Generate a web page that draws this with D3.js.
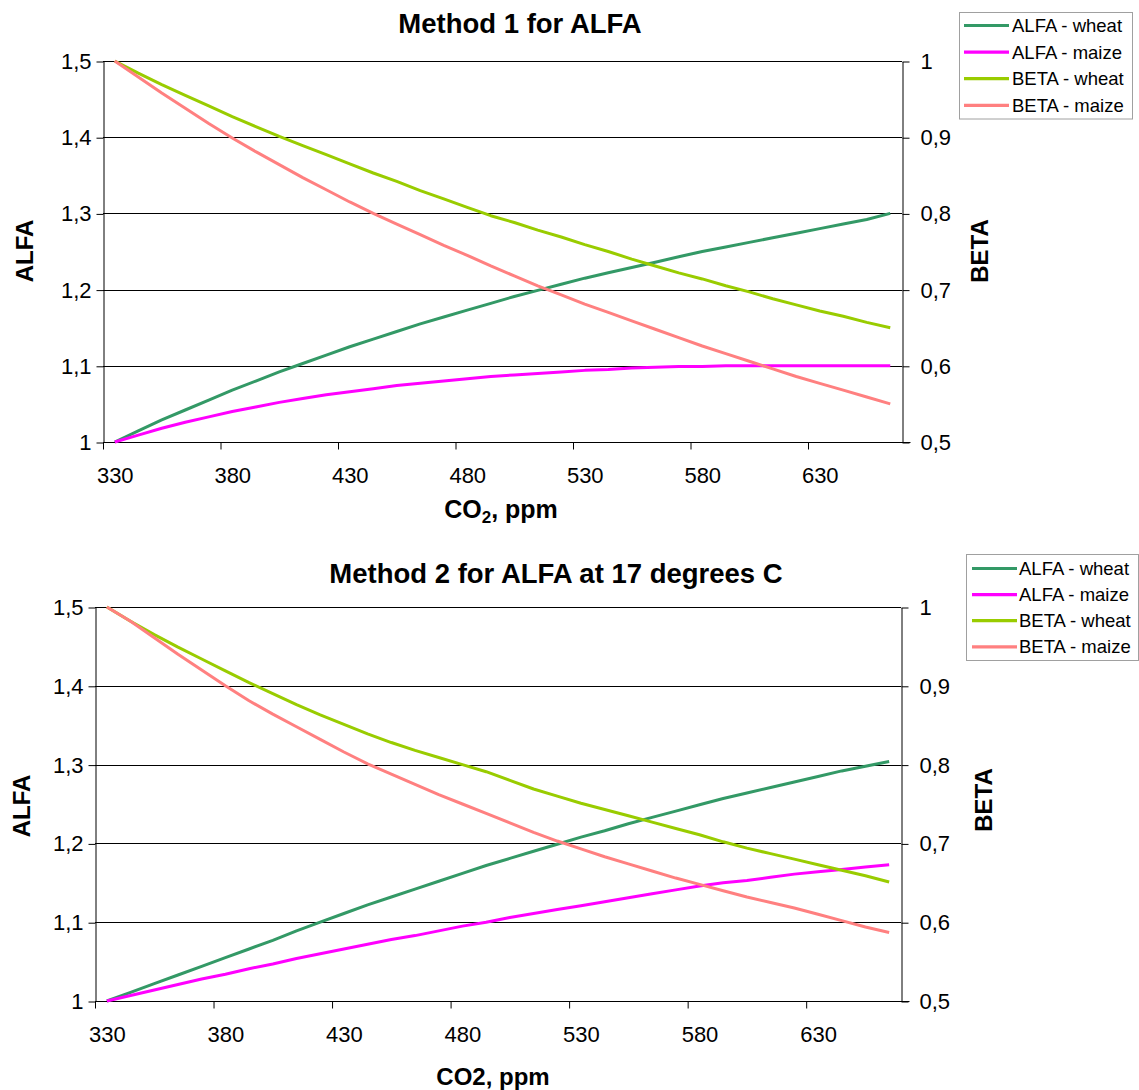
<!DOCTYPE html>
<html>
<head>
<meta charset="utf-8">
<script src="https://cdn.jsdelivr.net/npm/d3@7/dist/d3.min.js"></script>
<style>
  html, body { margin: 0; padding: 0; background: #fff; }
  svg { display: block; font-family: "Liberation Sans", Arial, sans-serif; }
</style>
</head>
<body>
<div id="chart"></div>
<script>
// ── Data ──
const co2 = [330, 340, 350, 360, 370, 380, 390, 400, 410, 420, 430, 440, 450, 460, 470, 480, 490,
             500, 510, 520, 530, 540, 550, 560, 570, 580, 590, 600, 610, 620, 630, 640, 650, 660];
const xTickLabels = [330, 380, 430, 480, 530, 580, 630];
const alfaTicks = [1, 1.1, 1.2, 1.3, 1.4, 1.5];
const betaTicks = [0.5, 0.6, 0.7, 0.8, 0.9, 1];
const seriesNames = ['ALFA - wheat', 'ALFA - maize', 'BETA - wheat', 'BETA - maize'];

// Method 1
const m1AlfaWheat = [1.000, 1.0145, 1.029, 1.042, 1.055, 1.068, 1.080, 1.092, 1.103, 1.114, 1.125, 1.135,
  1.145, 1.155, 1.164, 1.173, 1.182, 1.191, 1.199, 1.207, 1.215, 1.222, 1.229, 1.236, 1.243, 1.250,
  1.256, 1.262, 1.268, 1.274, 1.280, 1.286, 1.292, 1.300];
const m1AlfaMaize = [1.000, 1.009, 1.018, 1.026, 1.033, 1.040, 1.046, 1.052, 1.057, 1.062, 1.066, 1.070,
  1.074, 1.077, 1.080, 1.083, 1.086, 1.088, 1.090, 1.092, 1.094, 1.095, 1.097, 1.098, 1.099, 1.099,
  1.100, 1.100, 1.100, 1.100, 1.100, 1.100, 1.100, 1.100];
const m1BetaWheat = [1.000, 0.984, 0.969, 0.955, 0.941, 0.927, 0.914, 0.901, 0.889, 0.877, 0.865, 0.853,
  0.842, 0.830, 0.819, 0.808, 0.797, 0.788, 0.778, 0.769, 0.759, 0.750, 0.740, 0.731, 0.722, 0.714,
  0.705, 0.697, 0.688, 0.680, 0.672, 0.665, 0.657, 0.650];
const m1BetaMaize = [1.000, 0.979, 0.958, 0.938, 0.918, 0.899, 0.881, 0.864, 0.847, 0.831, 0.815, 0.800,
  0.786, 0.772, 0.758, 0.745, 0.731, 0.718, 0.705, 0.693, 0.681, 0.670, 0.659, 0.648, 0.637, 0.626,
  0.616, 0.606, 0.596, 0.586, 0.577, 0.568, 0.559, 0.550];

// Method 2
const m2AlfaWheat = [1.000, 1.011, 1.022, 1.033, 1.044, 1.055, 1.066, 1.077, 1.089, 1.100, 1.111, 1.122,
  1.132, 1.142, 1.152, 1.162, 1.172, 1.181, 1.190, 1.199, 1.208, 1.216, 1.225, 1.233, 1.241, 1.249,
  1.257, 1.264, 1.271, 1.278, 1.285, 1.292, 1.298, 1.304];
const m2AlfaMaize = [1.000, 1.007, 1.014, 1.021, 1.028, 1.034, 1.041, 1.047, 1.054, 1.060, 1.066, 1.072,
  1.078, 1.083, 1.089, 1.095, 1.100, 1.106, 1.111, 1.116, 1.121, 1.126, 1.131, 1.136, 1.141, 1.146,
  1.150, 1.153, 1.157, 1.161, 1.164, 1.167, 1.170, 1.173];
const m2BetaWheat = [1.000, 0.982, 0.965, 0.949, 0.934, 0.919, 0.904, 0.890, 0.876, 0.863, 0.851, 0.839,
  0.828, 0.818, 0.809, 0.800, 0.791, 0.780, 0.769, 0.760, 0.751, 0.743, 0.735, 0.727, 0.719, 0.711,
  0.702, 0.694, 0.687, 0.680, 0.673, 0.666, 0.659, 0.651];
const m2BetaMaize = [1.000, 0.982, 0.961, 0.940, 0.920, 0.900, 0.881, 0.864, 0.848, 0.832, 0.816, 0.801,
  0.788, 0.775, 0.762, 0.750, 0.738, 0.726, 0.714, 0.703, 0.693, 0.683, 0.674, 0.665, 0.656, 0.648,
  0.640, 0.632, 0.625, 0.618, 0.610, 0.602, 0.594, 0.587];

const colors = ['#339966', '#ff00ff', '#99cc00', '#ff8080'];

// ── Layout ──
const W = 1139, H = 1090;
const panels = [
  {
    title: 'Method 1 for ALFA', titleX: 520, titleY: 33,
    left: 103, right: 902, top: 61, bottom: 442,
    xTitleX: 501, xTitleY: 518, subscript: true, xTitleSize: 25,
    alfaX: 33, alfaY: 251, betaX: 988, betaY: 251,
    legend: { x: 959.5, y: 12.5, w: 173, h: 106.5, firstY: 25.5, step: 26.6, lineX: 964, lineW: 45, textX: 1012 },
    series: [m1AlfaWheat, m1AlfaMaize, m1BetaWheat, m1BetaMaize]
  },
  {
    title: 'Method 2 for ALFA at 17 degrees C', titleX: 556, titleY: 583,
    left: 95, right: 901, top: 607, bottom: 1001,
    xTitleX: 493, xTitleY: 1085, subscript: false, xTitleSize: 24,
    alfaX: 30, alfaY: 806, betaX: 992, betaY: 800,
    legend: { x: 966.5, y: 554.5, w: 172, h: 106, firstY: 568.5, step: 26.1, lineX: 972, lineW: 45, textX: 1019 },
    series: [m2AlfaWheat, m2AlfaMaize, m2BetaWheat, m2BetaMaize]
  }
];

const svg = d3.select('#chart').append('svg')
  .attr('width', W).attr('height', H);
svg.append('rect').attr('width', W).attr('height', H).attr('fill', '#fff');

function commaFmt(d) { return String(d).replace('.', ','); }

function drawPanel(p) {
  const g = svg.append('g');

  const x = d3.scaleBand().domain(co2).range([p.left, p.right]).paddingInner(0).paddingOuter(0);
  const bw = x.bandwidth();
  const yA = d3.scaleLinear().domain([1, 1.5]).range([p.bottom, p.top]);
  const yB = d3.scaleLinear().domain([0.5, 1]).range([p.bottom, p.top]);

  // ── Gridlines ──
  g.append('g').selectAll('line').data(alfaTicks).join('line')
    .attr('x1', p.left).attr('x2', p.right)
    .attr('y1', function(d) { return Math.round(yA(d)) + 0.5; })
    .attr('y2', function(d) { return Math.round(yA(d)) + 0.5; })
    .attr('stroke', '#000').attr('stroke-width', 1);

  // ── Axes ──
  const axL = g.append('g').attr('transform', 'translate(' + (p.left + 0.5) + ',0.5)')
    .call(d3.axisLeft(yA).tickValues(alfaTicks).tickFormat(commaFmt).tickSize(7).tickSizeOuter(0).tickPadding(5));
  const axR = g.append('g').attr('transform', 'translate(' + (p.right + 0.5) + ',0.5)')
    .call(d3.axisRight(yB).tickValues(betaTicks).tickFormat(commaFmt).tickSize(7).tickSizeOuter(0).tickPadding(11));
  const axB = g.append('g').attr('transform', 'translate(0.5,' + (p.bottom + 0.5) + ')')
    .call(d3.axisBottom(x).tickValues(xTickLabels).tickSize(7).tickSizeOuter(0));

  // ticks sit on category boundaries, labels in the middle of the category
  axB.selectAll('.tick line').attr('x1', -bw / 2).attr('x2', -bw / 2);
  axB.selectAll('.tick text').attr('y', 40).attr('dy', 0);
  axB.select('.domain').attr('d', 'M' + p.left + ',0H' + (p.right + 8));

  [axL, axR, axB].forEach(function(a) {
    a.selectAll('.domain').attr('stroke', '#000');
    a.selectAll('.tick line').attr('stroke', '#000');
    a.selectAll('text').attr('font-size', 22).attr('fill', '#000')
      .attr('font-family', '"Liberation Sans", Arial, sans-serif');
  });

  // ── Lines ──
  p.series.forEach(function(vals, si) {
    const yS = si < 2 ? yA : yB;
    const line = d3.line()
      .x(function(d, i) { return x(co2[i]) + bw / 2; })
      .y(function(d) { return yS(d); });
    g.append('path').datum(vals)
      .attr('d', line)
      .attr('fill', 'none')
      .attr('stroke', colors[si])
      .attr('stroke-width', 3)
      .attr('stroke-linejoin', 'round');
  });

  // ── Titles ──
  g.append('text').attr('x', p.titleX).attr('y', p.titleY)
    .attr('text-anchor', 'middle').attr('font-size', 27.5).attr('font-weight', 'bold')
    .text(p.title);

  const xt = g.append('text').attr('x', p.xTitleX).attr('y', p.xTitleY)
    .attr('text-anchor', 'middle').attr('font-size', p.xTitleSize).attr('font-weight', 'bold');
  if (p.subscript) {
    xt.append('tspan').text('CO');
    xt.append('tspan').attr('font-size', 17).attr('dy', 5).text('2');
    xt.append('tspan').attr('dy', -5).text(', ppm');
  } else {
    xt.text('CO2, ppm');
  }

  g.append('text')
    .attr('transform', 'translate(' + p.alfaX + ',' + p.alfaY + ') rotate(-90)')
    .attr('text-anchor', 'middle').attr('font-size', 24).attr('font-weight', 'bold')
    .text('ALFA');
  g.append('text')
    .attr('transform', 'translate(' + p.betaX + ',' + p.betaY + ') rotate(-90)')
    .attr('text-anchor', 'middle').attr('font-size', 24).attr('font-weight', 'bold')
    .text('BETA');

  // ── Legend ──
  const L = p.legend;
  g.append('rect').attr('x', L.x).attr('y', L.y).attr('width', L.w).attr('height', L.h)
    .attr('fill', '#fff').attr('stroke', '#a0a0a0').attr('stroke-width', 1);
  const items = g.append('g').selectAll('g').data(seriesNames).join('g')
    .attr('transform', function(d, i) { return 'translate(0,' + (L.firstY + i * L.step) + ')'; });
  items.append('line')
    .attr('x1', L.lineX).attr('x2', L.lineX + L.lineW)
    .attr('stroke', function(d, i) { return colors[i]; })
    .attr('stroke-width', 3.2);
  items.append('text')
    .attr('x', L.textX).attr('dy', '0.36em')
    .attr('font-size', 18.5)
    .text(function(d) { return d; });
}

panels.forEach(drawPanel);
</script>
</body>
</html>
